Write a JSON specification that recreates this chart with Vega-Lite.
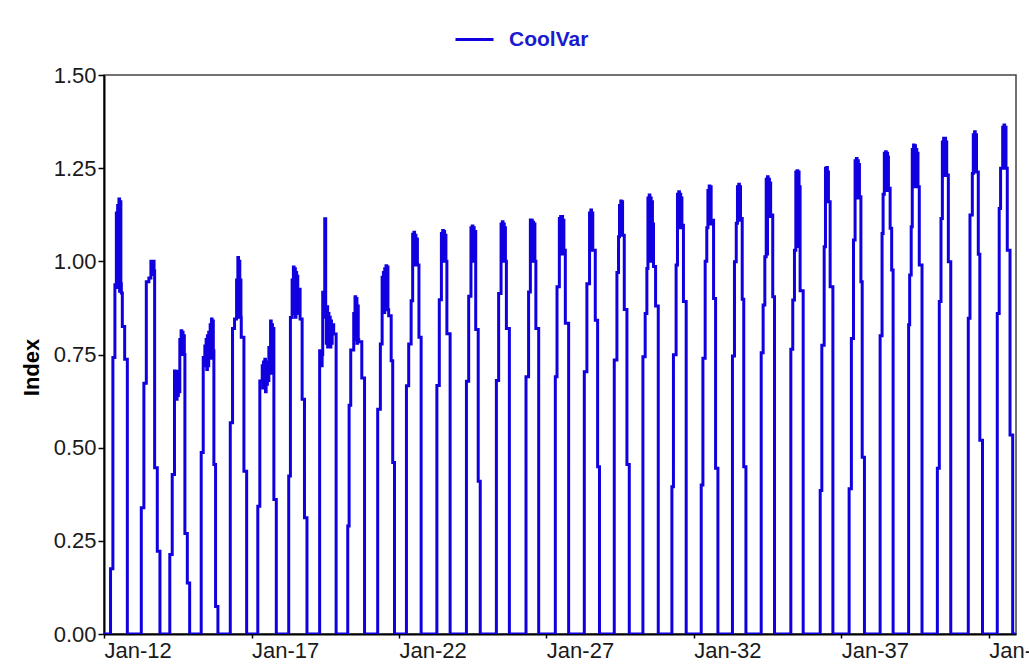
{
  "$schema": "https://vega.github.io/schema/vega-lite/v6.json",
  "width": 912,
  "height": 559,
  "autosize": {"type": "none"},
  "padding": {"left": 104, "top": 75, "right": 13, "bottom": 31},
  "background": "white",
  "config": {"view": {"stroke": "#444444", "strokeWidth": 1.5}},
  "data": {"values": [
    {"d":"2012-01-01","v":0},{"d":"2012-03-22","v":0.175},{"d":"2012-04-20","v":0.742},{"d":"2012-05-15","v":0.937},
    {"d":"2012-06-02","v":1.13},{"d":"2012-06-10","v":0.93},{"d":"2012-06-18","v":1.15},{"d":"2012-06-26","v":0.95},{"d":"2012-07-04","v":1.167},{"d":"2012-07-12","v":0.92},{"d":"2012-07-20","v":1.16},{"d":"2012-07-28","v":0.94},
    {"d":"2012-08-03","v":0.915},{"d":"2012-08-15","v":0.825},{"d":"2012-09-13","v":0.737},{"d":"2012-10-16","v":0},
    {"d":"2013-04-07","v":0.339},{"d":"2013-05-09","v":0.673},{"d":"2013-06-08","v":0.945},{"d":"2013-07-10","v":0.955},
    {"d":"2013-08-04","v":1.0},{"d":"2013-08-12","v":0.97},{"d":"2013-08-20","v":0.998},{"d":"2013-08-28","v":0.965},{"d":"2013-09-05","v":1.0},{"d":"2013-09-12","v":0.975},
    {"d":"2013-09-19","v":0.446},{"d":"2013-10-22","v":0.222},{"d":"2013-11-24","v":0},
    {"d":"2014-03-26","v":0.213},{"d":"2014-04-25","v":0.428},
    {"d":"2014-05-23","v":0.706},{"d":"2014-05-31","v":0.64},{"d":"2014-06-08","v":0.7},{"d":"2014-06-16","v":0.63},{"d":"2014-06-24","v":0.705},{"d":"2014-07-02","v":0.64},{"d":"2014-07-10","v":0.7},{"d":"2014-07-18","v":0.65},
    {"d":"2014-07-28","v":0.79},{"d":"2014-08-05","v":0.75},{"d":"2014-08-13","v":0.814},{"d":"2014-08-21","v":0.76},{"d":"2014-08-29","v":0.81},{"d":"2014-09-06","v":0.75},{"d":"2014-09-14","v":0.8},{"d":"2014-09-22","v":0.75},
    {"d":"2014-09-29","v":0.27},{"d":"2014-10-29","v":0.137},{"d":"2014-11-27","v":0},
    {"d":"2015-04-19","v":0.487},{"d":"2015-05-14","v":0.742},
    {"d":"2015-06-03","v":0.773},{"d":"2015-06-11","v":0.72},{"d":"2015-06-19","v":0.79},{"d":"2015-06-27","v":0.71},{"d":"2015-07-05","v":0.8},{"d":"2015-07-13","v":0.72},{"d":"2015-07-21","v":0.81},
    {"d":"2015-07-31","v":0.75},{"d":"2015-08-08","v":0.83},{"d":"2015-08-16","v":0.74},{"d":"2015-08-24","v":0.845},{"d":"2015-09-01","v":0.75},{"d":"2015-09-09","v":0.84},{"d":"2015-09-16","v":0.76},
    {"d":"2015-09-23","v":0.455},{"d":"2015-10-14","v":0.074},{"d":"2015-11-12","v":0},
    {"d":"2016-04-13","v":0.567},{"d":"2016-05-11","v":0.82},{"d":"2016-06-05","v":0.845},
    {"d":"2016-06-30","v":0.95},{"d":"2016-07-08","v":0.86},{"d":"2016-07-16","v":1.01},{"d":"2016-07-24","v":0.85},{"d":"2016-08-01","v":1.0},{"d":"2016-08-09","v":0.87},{"d":"2016-08-17","v":0.95},{"d":"2016-08-23","v":0.85},
    {"d":"2016-08-27","v":0.796},{"d":"2016-09-29","v":0.437},{"d":"2016-11-02","v":0},
    {"d":"2017-03-20","v":0.343},{"d":"2017-04-14","v":0.679},
    {"d":"2017-05-14","v":0.72},{"d":"2017-05-22","v":0.66},{"d":"2017-05-30","v":0.73},{"d":"2017-06-07","v":0.67},{"d":"2017-06-15","v":0.737},{"d":"2017-06-23","v":0.65},{"d":"2017-07-01","v":0.73},{"d":"2017-07-09","v":0.67},{"d":"2017-07-17","v":0.72},{"d":"2017-07-25","v":0.68},
    {"d":"2017-08-04","v":0.769},{"d":"2017-08-14","v":0.74},{"d":"2017-08-25","v":0.84},{"d":"2017-09-02","v":0.7},{"d":"2017-09-10","v":0.83},{"d":"2017-09-18","v":0.72},{"d":"2017-09-26","v":0.82},
    {"d":"2017-10-05","v":0.361},{"d":"2017-11-04","v":0},
    {"d":"2018-04-07","v":0.424},{"d":"2018-04-28","v":0.849},
    {"d":"2018-05-19","v":0.95},{"d":"2018-05-27","v":0.86},{"d":"2018-06-04","v":0.985},{"d":"2018-06-12","v":0.87},{"d":"2018-06-20","v":0.98},{"d":"2018-06-28","v":0.85},{"d":"2018-07-06","v":0.97},{"d":"2018-07-14","v":0.86},{"d":"2018-07-22","v":0.96},{"d":"2018-07-28","v":0.88},
    {"d":"2018-08-02","v":0.925},{"d":"2018-08-26","v":0.845},{"d":"2018-09-20","v":0.63},{"d":"2018-10-19","v":0.312},{"d":"2018-11-19","v":0},
    {"d":"2019-04-25","v":0.76},{"d":"2019-05-03","v":0.72},{"d":"2019-05-11","v":0.755},{"d":"2019-05-19","v":0.72},{"d":"2019-05-26","v":0.75},
    {"d":"2019-06-02","v":0.917},{"d":"2019-06-27","v":1.114},
    {"d":"2019-07-09","v":0.85},{"d":"2019-07-17","v":0.78},{"d":"2019-07-25","v":0.878},{"d":"2019-08-02","v":0.77},{"d":"2019-08-10","v":0.86},{"d":"2019-08-18","v":0.78},{"d":"2019-08-26","v":0.85},{"d":"2019-09-03","v":0.77},{"d":"2019-09-11","v":0.84},{"d":"2019-09-19","v":0.78},{"d":"2019-09-27","v":0.83},
    {"d":"2019-10-16","v":0.805},{"d":"2019-11-15","v":0},
    {"d":"2020-04-07","v":0.29},{"d":"2020-04-24","v":0.614},{"d":"2020-05-14","v":0.762},
    {"d":"2020-06-20","v":0.86},{"d":"2020-06-28","v":0.79},{"d":"2020-07-06","v":0.905},{"d":"2020-07-14","v":0.8},{"d":"2020-07-22","v":0.9},{"d":"2020-07-30","v":0.78},{"d":"2020-08-07","v":0.88},{"d":"2020-08-15","v":0.79},
    {"d":"2020-08-21","v":0.784},{"d":"2020-09-28","v":0.687},{"d":"2020-11-01","v":0},
    {"d":"2021-04-13","v":0.603},{"d":"2021-05-16","v":0.778},
    {"d":"2021-06-07","v":0.957},{"d":"2021-06-15","v":0.87},{"d":"2021-06-23","v":0.97},{"d":"2021-07-01","v":0.863},{"d":"2021-07-09","v":0.98},{"d":"2021-07-17","v":0.87},{"d":"2021-07-25","v":0.988},{"d":"2021-08-02","v":0.88},{"d":"2021-08-10","v":0.985},{"d":"2021-08-18","v":0.87},
    {"d":"2021-08-27","v":0.854},{"d":"2021-09-27","v":0.733},{"d":"2021-10-16","v":0.46},{"d":"2021-11-07","v":0},
    {"d":"2022-04-04","v":0.666},{"d":"2022-05-02","v":0.778},{"d":"2022-06-01","v":0.894},
    {"d":"2022-06-20","v":1.073},{"d":"2022-06-28","v":0.99},{"d":"2022-07-06","v":1.078},{"d":"2022-07-14","v":1.0},{"d":"2022-07-22","v":1.07},{"d":"2022-07-30","v":0.99},{"d":"2022-08-07","v":1.06},
    {"d":"2022-08-18","v":0.99},{"d":"2022-09-06","v":0.796},{"d":"2022-10-03","v":0},
    {"d":"2023-04-16","v":0.667},{"d":"2023-05-16","v":0.897},
    {"d":"2023-06-11","v":1.075},{"d":"2023-06-19","v":1.0},{"d":"2023-06-27","v":1.083},{"d":"2023-07-05","v":1.0},{"d":"2023-07-13","v":1.08},{"d":"2023-07-21","v":1.0},{"d":"2023-07-29","v":1.07},{"d":"2023-08-06","v":1.0},
    {"d":"2023-08-18","v":0.806},{"d":"2023-09-27","v":0},
    {"d":"2024-04-16","v":0.678},{"d":"2024-05-14","v":0.906},
    {"d":"2024-06-11","v":1.09},{"d":"2024-06-19","v":1.0},{"d":"2024-06-27","v":1.095},{"d":"2024-07-05","v":1.01},{"d":"2024-07-13","v":1.09},{"d":"2024-07-21","v":1.0},{"d":"2024-07-29","v":1.08},
    {"d":"2024-08-09","v":0.817},{"d":"2024-09-09","v":0.41},{"d":"2024-10-04","v":0},
    {"d":"2025-04-22","v":0.68},{"d":"2025-05-20","v":0.914},
    {"d":"2025-06-19","v":1.1},{"d":"2025-06-27","v":1.0},{"d":"2025-07-05","v":1.106},{"d":"2025-07-13","v":1.01},{"d":"2025-07-21","v":1.1},{"d":"2025-07-29","v":1.0},{"d":"2025-08-06","v":1.09},{"d":"2025-08-12","v":1.0},
    {"d":"2025-08-24","v":0.82},{"d":"2025-09-30","v":0},
    {"d":"2026-04-24","v":0.69},{"d":"2026-05-26","v":0.918},
    {"d":"2026-06-17","v":1.111},{"d":"2026-06-25","v":1.0},{"d":"2026-07-03","v":1.11},{"d":"2026-07-11","v":1.01},{"d":"2026-07-19","v":1.105},{"d":"2026-07-27","v":1.0},{"d":"2026-08-04","v":1.1},{"d":"2026-08-12","v":1.0},
    {"d":"2026-08-24","v":0.82},{"d":"2026-09-28","v":0},
    {"d":"2027-04-22","v":0.69},{"d":"2027-05-13","v":0.932},
    {"d":"2027-06-11","v":1.115},{"d":"2027-06-19","v":1.02},{"d":"2027-06-27","v":1.12},{"d":"2027-07-05","v":1.03},{"d":"2027-07-13","v":1.12},{"d":"2027-07-21","v":1.02},{"d":"2027-07-29","v":1.11},{"d":"2027-08-06","v":1.03},
    {"d":"2027-08-24","v":0.834},{"d":"2027-10-04","v":0},
    {"d":"2028-04-15","v":0.704},{"d":"2028-05-17","v":0.94},
    {"d":"2028-06-19","v":1.13},{"d":"2028-06-27","v":1.03},{"d":"2028-07-05","v":1.138},{"d":"2028-07-13","v":1.04},{"d":"2028-07-21","v":1.13},{"d":"2028-07-29","v":1.03},
    {"d":"2028-08-29","v":0.842},{"d":"2028-09-27","v":0.449},{"d":"2028-10-20","v":0},
    {"d":"2029-04-21","v":0.735},{"d":"2029-05-24","v":0.97},{"d":"2029-06-13","v":1.066},
    {"d":"2029-06-25","v":1.15},{"d":"2029-07-03","v":1.07},{"d":"2029-07-11","v":1.162},{"d":"2029-07-19","v":1.08},{"d":"2029-07-27","v":1.16},{"d":"2029-08-02","v":1.07},
    {"d":"2029-08-23","v":0.871},{"d":"2029-09-25","v":0.455},{"d":"2029-10-24","v":0},
    {"d":"2030-04-11","v":0.744},{"d":"2030-05-09","v":0.86},{"d":"2030-05-30","v":0.981},
    {"d":"2030-06-12","v":1.17},{"d":"2030-06-20","v":1.07},{"d":"2030-06-28","v":1.178},{"d":"2030-07-06","v":1.0},{"d":"2030-07-14","v":1.17},{"d":"2030-07-22","v":1.07},{"d":"2030-07-30","v":1.16},{"d":"2030-08-07","v":1.0},{"d":"2030-08-14","v":1.1},
    {"d":"2030-08-20","v":0.986},{"d":"2030-09-15","v":0.88},{"d":"2030-10-18","v":0},
    {"d":"2031-04-05","v":0.395},{"d":"2031-04-24","v":0.749},{"d":"2031-05-27","v":0.99},
    {"d":"2031-06-13","v":1.18},{"d":"2031-06-21","v":1.09},{"d":"2031-06-29","v":1.187},{"d":"2031-07-07","v":1.1},{"d":"2031-07-15","v":1.18},{"d":"2031-07-23","v":1.09},{"d":"2031-07-31","v":1.17},
    {"d":"2031-08-07","v":1.097},{"d":"2031-08-26","v":0.892},{"d":"2031-09-29","v":0},
    {"d":"2032-04-02","v":0.4},{"d":"2032-04-23","v":0.74},{"d":"2032-05-21","v":1.0},{"d":"2032-06-10","v":1.09},
    {"d":"2032-06-24","v":1.19},{"d":"2032-07-02","v":1.1},{"d":"2032-07-10","v":1.202},{"d":"2032-07-18","v":1.11},{"d":"2032-07-26","v":1.2},{"d":"2032-08-03","v":1.1},
    {"d":"2032-08-10","v":1.11},{"d":"2032-09-02","v":0.9},{"d":"2032-09-27","v":0.445},{"d":"2032-10-26","v":0},
    {"d":"2033-04-24","v":0.746},{"d":"2033-05-19","v":0.999},{"d":"2033-06-10","v":1.102},
    {"d":"2033-06-25","v":1.2},{"d":"2033-07-03","v":1.11},{"d":"2033-07-11","v":1.207},{"d":"2033-07-19","v":1.12},{"d":"2033-07-27","v":1.2},{"d":"2033-08-02","v":1.11},
    {"d":"2033-08-07","v":1.115},{"d":"2033-08-23","v":0.898},{"d":"2033-09-11","v":0.449},{"d":"2033-10-08","v":0},
    {"d":"2034-04-15","v":0.755},{"d":"2034-05-09","v":0.883},{"d":"2034-05-30","v":1.012},
    {"d":"2034-06-16","v":1.22},{"d":"2034-06-24","v":1.02},{"d":"2034-07-02","v":1.227},{"d":"2034-07-10","v":1.12},{"d":"2034-07-18","v":1.22},{"d":"2034-07-26","v":1.12},{"d":"2034-08-03","v":1.21},
    {"d":"2034-08-10","v":1.124},{"d":"2034-09-05","v":0.905},{"d":"2034-09-27","v":0},
    {"d":"2035-04-17","v":0.764},{"d":"2035-05-11","v":0.896},{"d":"2035-06-01","v":1.03},
    {"d":"2035-06-18","v":1.24},{"d":"2035-06-26","v":1.04},{"d":"2035-07-04","v":1.243},{"d":"2035-07-12","v":1.14},{"d":"2035-07-20","v":1.24},{"d":"2035-07-28","v":1.04},{"d":"2035-08-04","v":1.2},
    {"d":"2035-08-10","v":0.921},{"d":"2035-09-17","v":0},
    {"d":"2036-04-15","v":0.385},{"d":"2036-05-05","v":0.775},{"d":"2036-06-03","v":1.039},
    {"d":"2036-06-19","v":1.25},{"d":"2036-06-27","v":1.16},{"d":"2036-07-05","v":1.252},{"d":"2036-07-13","v":1.16},{"d":"2036-07-20","v":1.24},
    {"d":"2036-07-26","v":1.16},{"d":"2036-08-16","v":0.932},{"d":"2036-09-19","v":0},
    {"d":"2037-04-08","v":0.39},{"d":"2037-05-06","v":0.793},{"d":"2037-06-01","v":1.057},
    {"d":"2037-06-21","v":1.27},{"d":"2037-06-29","v":1.17},{"d":"2037-07-07","v":1.276},{"d":"2037-07-15","v":1.18},{"d":"2037-07-23","v":1.27},{"d":"2037-07-31","v":1.17},{"d":"2037-08-07","v":1.26},
    {"d":"2037-08-14","v":1.173},{"d":"2037-09-01","v":0.945},{"d":"2037-09-17","v":0.474},{"d":"2037-10-15","v":0},
    {"d":"2038-04-27","v":0.8},{"d":"2038-05-21","v":1.075},{"d":"2038-06-03","v":1.18},
    {"d":"2038-06-18","v":1.29},{"d":"2038-06-26","v":1.19},{"d":"2038-07-04","v":1.294},{"d":"2038-07-12","v":1.2},{"d":"2038-07-20","v":1.29},{"d":"2038-07-28","v":1.19},{"d":"2038-08-03","v":1.28},
    {"d":"2038-08-08","v":1.196},{"d":"2038-08-29","v":1.089},{"d":"2038-09-17","v":0.977},{"d":"2038-10-05","v":0},
    {"d":"2039-04-15","v":0.83},{"d":"2039-04-28","v":0.963},{"d":"2039-05-17","v":1.093},
    {"d":"2039-05-30","v":1.3},{"d":"2039-06-07","v":1.2},{"d":"2039-06-15","v":1.312},{"d":"2039-06-23","v":1.21},{"d":"2039-07-01","v":1.31},{"d":"2039-07-09","v":1.2},{"d":"2039-07-17","v":1.3},{"d":"2039-07-25","v":1.21},{"d":"2039-08-02","v":1.29},
    {"d":"2039-08-09","v":1.2},{"d":"2039-08-25","v":0.99},{"d":"2039-09-28","v":0},
    {"d":"2040-04-05","v":0.445},{"d":"2040-04-29","v":0.892},{"d":"2040-05-20","v":1.115},
    {"d":"2040-06-06","v":1.32},{"d":"2040-06-14","v":1.23},{"d":"2040-06-22","v":1.33},{"d":"2040-06-30","v":1.24},{"d":"2040-07-08","v":1.33},{"d":"2040-07-16","v":1.23},{"d":"2040-07-24","v":1.32},
    {"d":"2040-07-30","v":1.232},{"d":"2040-08-19","v":0.999},{"d":"2040-09-18","v":0},
    {"d":"2041-04-23","v":0.847},{"d":"2041-05-14","v":1.124},{"d":"2041-06-12","v":1.236},
    {"d":"2041-06-24","v":1.34},{"d":"2041-07-02","v":1.24},{"d":"2041-07-10","v":1.348},{"d":"2041-07-18","v":1.25},{"d":"2041-07-26","v":1.34},{"d":"2041-08-03","v":1.24},
    {"d":"2041-08-25","v":1.019},{"d":"2041-09-13","v":0.52},{"d":"2041-10-16","v":0},
    {"d":"2042-04-17","v":0.86},{"d":"2042-05-11","v":1.142},{"d":"2042-05-28","v":1.25},
    {"d":"2042-06-23","v":1.36},{"d":"2042-07-01","v":1.25},{"d":"2042-07-09","v":1.366},{"d":"2042-07-17","v":1.26},{"d":"2042-07-25","v":1.36},
    {"d":"2042-08-03","v":1.25},{"d":"2042-08-19","v":1.03},{"d":"2042-09-22","v":0.534},{"d":"2042-10-25","v":0},{"d":"2042-12-01","v":0}
  ]},
  "mark": {"type": "line", "interpolate": "step-after", "strokeWidth": 3, "clip": true},
  "encoding": {
    "x": {
      "field": "d", "type": "temporal",
      "scale": {"type": "utc", "domain": [{"year": 2012, "month": 1, "date": 1, "utc": true}, {"year": 2042, "month": 12, "date": 5, "utc": true}]},
      "axis": {
        "title": null, "grid": false,
        "labelExpr": "utcFormat(datum.value, '%b-%y')",
        "values": [
          {"year": 2012, "month": 1, "date": 1, "utc": true},
          {"year": 2017, "month": 1, "date": 1, "utc": true},
          {"year": 2022, "month": 1, "date": 1, "utc": true},
          {"year": 2027, "month": 1, "date": 1, "utc": true},
          {"year": 2032, "month": 1, "date": 1, "utc": true},
          {"year": 2037, "month": 1, "date": 1, "utc": true},
          {"year": 2042, "month": 1, "date": 1, "utc": true}
        ],
        "labelAlign": "left", "labelBaseline": "top", "labelFont": "Liberation Sans", "labelFontSize": 22, "labelColor": "#1a1a1a",
        "labelPadding": 2, "labelOverlap": false, "labelFlush": false, "labelBound": false,
        "tickSize": 4, "tickColor": "#000000", "tickWidth": 1.5, "domainColor": "#000000", "domainWidth": 2
      }
    },
    "y": {
      "field": "v", "type": "quantitative",
      "scale": {"domain": [0, 1.5], "nice": false},
      "axis": {
        "title": "Index", "titleFont": "Liberation Sans", "titleFontSize": 22, "titleFontWeight": "bold", "titleColor": "#000000", "titlePadding": 10, "titleY": 292,
        "grid": false, "values": [0, 0.25, 0.5, 0.75, 1, 1.25, 1.5], "format": ".2f",
        "labelFont": "Liberation Sans", "labelFontSize": 22, "labelColor": "#1a1a1a", "labelPadding": 2,
        "tickSize": 6, "tickColor": "#000000", "tickWidth": 1.5, "domainColor": "#000000", "domainWidth": 2
      }
    },
    "color": {
      "datum": "CoolVar",
      "scale": {"range": ["#1000E0"]},
      "legend": {
        "title": null, "orient": "none", "legendX": 350, "legendY": -56, "padding": 0,
        "symbolType": "stroke", "symbolSize": 1444, "symbolStrokeWidth": 3,
        "labelFont": "Liberation Sans", "labelFontSize": 21, "labelFontWeight": "bold", "labelColor": "#1a1ad0", "labelOffset": 14
      }
    }
  }
}
